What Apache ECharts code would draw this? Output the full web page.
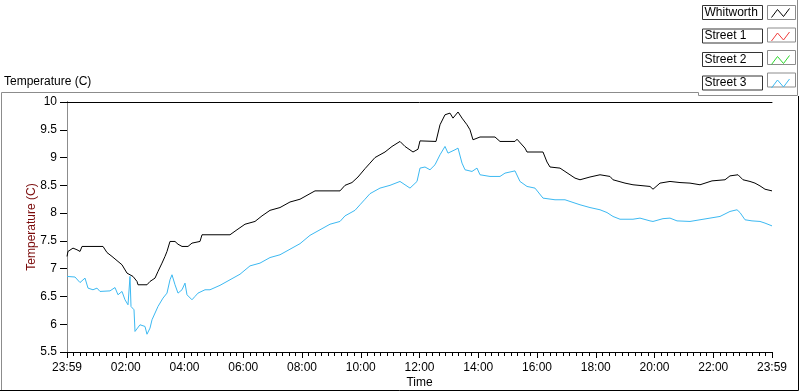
<!DOCTYPE html>
<html>
<head>
<meta charset="utf-8">
<script src="https://cdn.jsdelivr.net/npm/echarts@6/dist/echarts.min.js"></script>
<style>
html,body{margin:0;padding:0;background:#fff;}
#chart{width:800px;height:392px;}
</style>
</head>
<body>
<div id="chart"></div>
<script>
// ---- data (time in hours since 23:59, value in degrees C) ----
const seriesNames = ['Whitworth', 'Street 1', 'Street 2', 'Street 3'];
const seriesColors = ['#000000', '#f03c3c', '#2ed82e', '#3cb9f2'];
const xTickLabels = ['23:59','02:00','04:00','06:00','08:00','10:00','12:00','14:00','16:00','18:00','20:00','22:00','23:59'];

const whitworthTime = [0,0.034,0.204,0.340,0.443,0.511,1.226,1.362,1.532,1.736,1.872,2.043,2.247,2.383,2.417,2.723,2.826,2.996,3.098,3.234,3.336,3.404,3.506,3.677,3.779,3.915,4.119,4.255,4.528,4.596,5.549,5.787,6.060,6.400,6.638,6.911,7.251,7.591,7.932,8.272,8.443,9.294,9.464,9.702,9.906,10.145,10.315,10.485,10.655,10.826,11.064,11.336,11.506,11.779,11.949,12.017,12.562,12.698,12.868,13.038,13.140,13.311,13.447,13.617,13.719,13.821,14.060,14.570,14.740,15.251,15.319,15.591,15.660,16.204,16.340,16.443,16.783,16.953,17.294,17.464,17.804,18.145,18.485,18.587,18.996,19.268,19.847,19.949,20.187,20.528,20.868,21.209,21.549,21.957,22.400,22.570,22.843,23.013,23.251,23.421,23.591,23.762,24];
const whitworthTemp = [7.22,7.31,7.37,7.34,7.31,7.40,7.40,7.29,7.22,7.13,7.07,6.92,6.86,6.77,6.71,6.71,6.77,6.83,6.95,7.10,7.22,7.31,7.49,7.49,7.44,7.40,7.40,7.46,7.49,7.61,7.61,7.70,7.80,7.85,7.95,8.05,8.10,8.20,8.25,8.35,8.40,8.40,8.50,8.55,8.65,8.80,8.90,9.00,9.05,9.10,9.20,9.29,9.20,9.10,9.15,9.30,9.29,9.59,9.77,9.80,9.71,9.82,9.71,9.59,9.50,9.32,9.37,9.37,9.29,9.29,9.33,9.17,9.10,9.10,8.92,8.83,8.81,8.75,8.63,8.60,8.65,8.69,8.66,8.60,8.54,8.51,8.48,8.43,8.54,8.57,8.55,8.54,8.51,8.58,8.60,8.67,8.69,8.60,8.57,8.54,8.49,8.43,8.40];

const street3Time = [0,0.272,0.443,0.613,0.715,0.885,1.021,1.123,1.464,1.634,1.736,1.872,1.974,2.077,2.145,2.179,2.281,2.315,2.383,2.485,2.655,2.723,2.826,2.894,3.098,3.268,3.404,3.506,3.574,3.677,3.779,3.915,4.017,4.085,4.255,4.357,4.460,4.698,4.868,5.209,5.549,5.889,6.230,6.570,6.911,7.251,7.591,7.932,8.272,8.613,8.953,9.294,9.464,9.634,9.804,9.974,10.145,10.315,10.485,10.655,10.996,11.336,11.677,11.915,12.017,12.187,12.357,12.528,12.698,12.868,12.970,13.209,13.311,13.447,13.549,13.787,13.957,14.060,14.400,14.740,14.911,15.251,15.421,15.660,15.932,16.204,16.613,16.953,17.294,17.464,17.804,18.145,18.383,18.587,18.826,19.268,19.506,19.847,19.949,20.289,20.528,20.766,21.209,21.549,21.889,22.230,22.570,22.809,22.911,23.081,23.319,23.591,23.762,24];
const street3Temp = [6.86,6.85,6.75,6.83,6.65,6.62,6.65,6.59,6.60,6.66,6.53,6.59,6.44,6.35,6.86,6.32,6.26,5.87,5.84,5.99,5.96,5.82,5.93,6.08,6.32,6.47,6.56,6.80,6.89,6.71,6.56,6.62,6.74,6.53,6.44,6.50,6.56,6.62,6.62,6.70,6.80,6.90,7.05,7.10,7.20,7.25,7.35,7.45,7.60,7.70,7.80,7.85,7.95,8.00,8.05,8.15,8.25,8.35,8.40,8.45,8.50,8.57,8.45,8.57,8.81,8.83,8.78,8.87,9.05,9.20,9.08,9.14,9.17,8.90,8.78,8.75,8.81,8.69,8.66,8.66,8.72,8.76,8.57,8.48,8.45,8.27,8.24,8.24,8.18,8.15,8.10,8.06,8.01,7.94,7.89,7.89,7.91,7.86,7.85,7.90,7.91,7.86,7.85,7.88,7.91,7.94,8.03,8.06,8.01,7.88,7.86,7.85,7.82,7.77];

const street1Time = [];
const street1Temp = [];
const street2Time = [];
const street2Temp = [];

// ---- build ----
const FONT = '"Liberation Sans", Arial, sans-serif';
function pairs(t, v) { return t.map((x, i) => [x, v[i]]); }
const seriesData = [
  pairs(whitworthTime, whitworthTemp),
  pairs(street1Time, street1Temp),
  pairs(street2Time, street2Temp),
  pairs(street3Time, street3Temp)
];
const zig = 'path://M0,0M28,14M4,12L10,4L16,11L22,3';

const chart = echarts.init(document.getElementById('chart'), null, {renderer: 'canvas'});
const option = {
  animation: false,
  backgroundColor: '#fff',
  title: {
    text: 'Temperature (C)', left: 4, top: 76, padding: 0,
    textStyle: {fontFamily: FONT, fontSize: 12, fontWeight: 'normal', color: '#000'}
  },
  legend: {
    orient: 'vertical', left: 702, top: 5, align: 'right', padding: 0,
    itemGap: 8.5, itemWidth: 28, itemHeight: 14, selectedMode: false,
    formatter: '{a|{name}}',
    textStyle: {
      fontFamily: FONT, fontSize: 12, color: '#000',
      rich: {a: {width: 56, height: 12, lineHeight: 12, padding: [1, 2, 1, 2], borderColor: '#333', borderWidth: 1, align: 'left', fontFamily: FONT, fontSize: 12}}
    },
    data: seriesNames.map((n, i) => ({
      name: n, icon: zig,
      itemStyle: {color: 'rgba(0,0,0,0)', borderColor: seriesColors[i], borderWidth: 1}
    }))
  },
  grid: {left: 67, right: 28, top: 102, bottom: 40, containLabel: false, outerBoundsMode: 'none'},
  xAxis: [{
    type: 'value', min: 0, max: 24, interval: 2,
    name: 'Time', nameLocation: 'middle', nameGap: 25, nameMoveOverlap: false,
    nameTextStyle: {fontFamily: FONT, fontSize: 12, color: '#000'},
    axisLine: {lineStyle: {color: '#000', width: 1}},
    axisTick: {length: 6, lineStyle: {color: '#000'}},
    minorTick: {show: true, splitNumber: 9, length: 4, lineStyle: {color: '#000'}},
    splitLine: {show: false},
    axisLabel: {
      margin: 10, fontFamily: FONT, fontSize: 12, color: '#000',
      formatter: v => xTickLabels[Math.round(v / 2)]
    }
  }, {
    type: 'value', position: 'top', min: 0, max: 24,
    axisLine: {show: true, lineStyle: {color: '#000'}},
    axisTick: {show: false}, axisLabel: {show: false}, splitLine: {show: false}
  }],
  yAxis: [{
    type: 'value', min: 5.5, max: 10, interval: 0.5,
    name: 'Temperature (C)', nameLocation: 'middle', nameGap: 29, nameRotate: 90, nameMoveOverlap: false,
    nameTextStyle: {fontFamily: FONT, fontSize: 12, color: '#7a0a0a'},
    axisLine: {show: true, lineStyle: {color: '#000'}},
    axisTick: {show: true, length: 7, lineStyle: {color: '#000'}},
    splitLine: {show: false},
    axisLabel: {margin: 10, fontFamily: FONT, fontSize: 12, color: '#000'}
  }, {
    type: 'value', position: 'right', min: 5.5, max: 10,
    axisLine: {show: true, lineStyle: {color: '#8c8c8c'}},
    axisTick: {show: false}, axisLabel: {show: false}, splitLine: {show: false}
  }],
  series: seriesNames.map((n, i) => ({
    name: n, type: 'line', data: seriesData[i],
    showSymbol: false, symbol: 'none',
    lineStyle: {color: seriesColors[i], width: 1},
    itemStyle: {color: seriesColors[i]},
    emphasis: {disabled: true}
  })),
  graphic: [
    {type: 'polyline', silent: true, shape: {points: [[1.5, 391], [1.5, 92.5], [698.5, 92.5], [698.5, 95.5], [797.5, 95.5], [797.5, 0]]}, style: {stroke: '#8c8c8c', fill: null, lineWidth: 1}},
    {type: 'polyline', silent: true, shape: {points: [[0, 390.5], [798.5, 390.5], [798.5, 96]]}, style: {stroke: '#000', fill: null, lineWidth: 1}}
  ].concat(seriesNames.map((n, i) => ({
    type: 'rect', silent: true,
    shape: {x: 767.5, y: 5.5 + i * 22.5, width: 28, height: 14},
    style: {stroke: '#8c8c8c', fill: null, lineWidth: 1}
  })))
};
chart.setOption(option);
</script>
</body>
</html>
